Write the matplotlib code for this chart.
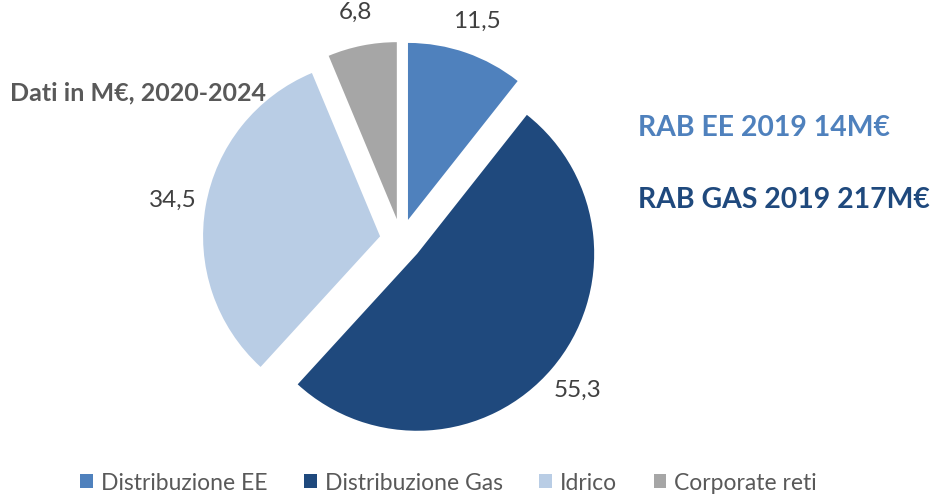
import matplotlib.pyplot as plt

plt.rcParams['font.family'] = ['Lato', 'DejaVu Sans']

categories = ['Distribuzione EE', 'Distribuzione Gas', 'Idrico', 'Corporate reti']
values = [11.5, 55.3, 34.5, 6.8]
colors = ['#4F81BD', '#1F497D', '#B9CDE5', '#A6A6A6']

fig = plt.figure(figsize=(9.31, 4.95), dpi=100)
ax = fig.add_axes([0, 0, 1, 1])

radius = 177
labels = [f"{v:.1f}".replace('.', ',') for v in values]
# explode is in data units here, not a fraction of the radius
wedges, texts = ax.pie(values, colors=colors, labels=labels, startangle=90,
                       counterclock=False, explode=[0.12 * radius] * 4,
                       center=(401, 255), radius=radius, labeldistance=1.19,
                       wedgeprops=dict(linewidth=0),
                       textprops=dict(fontsize=17.5, color='#404040',
                                      ha='center', va='center'))
ax.set_xlim(0, 931)
ax.set_ylim(0, 495)
ax.set_aspect('equal')
ax.axis('off')

fig.text(10 / 931, 1 - 93 / 495, 'Dati in M€, 2020-2024', fontsize=18,
         fontweight='bold', color='#595959', va='center', ha='left')
fig.text(638 / 931, 1 - 128 / 495, 'RAB EE 2019 14M€', fontsize=20.4,
         fontweight='bold', color='#4F81BD', va='center', ha='left')
fig.text(638 / 931, 1 - 200 / 495, 'RAB GAS 2019 217M€', fontsize=20.4,
         fontweight='bold', color='#1F497D', va='center', ha='left')

fig.legend(wedges, categories, loc='center', bbox_to_anchor=(0.482, 1 - 483 / 495),
           ncol=4, frameon=False, fontsize=16.5, labelcolor='#595959',
           handlelength=0.55, handleheight=0.55, handletextpad=0.35,
           columnspacing=1.6)

fig.savefig('out.png', dpi=100)
